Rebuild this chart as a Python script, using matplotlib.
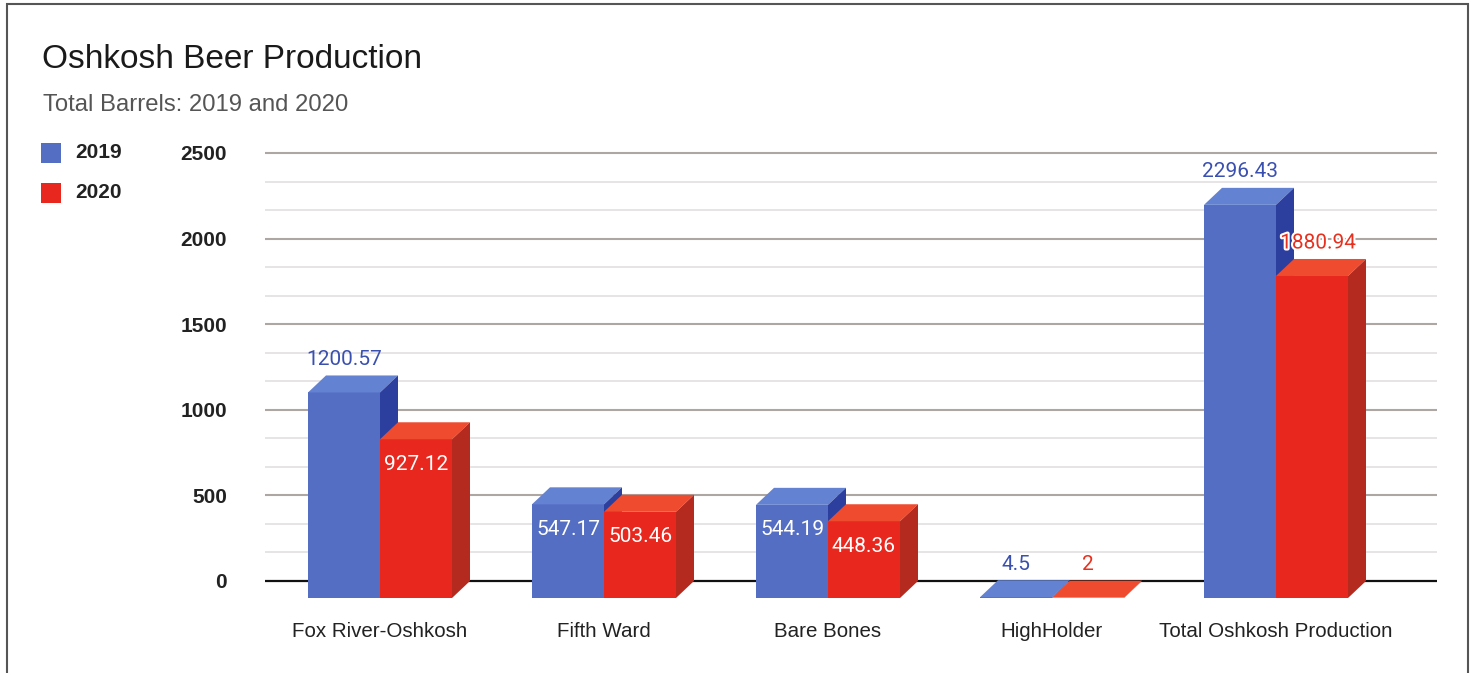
import matplotlib
matplotlib.use("Agg")
import matplotlib.pyplot as plt
from matplotlib.patches import Polygon, Rectangle
import matplotlib.patheffects as pe

# ---------------- data ----------------
categories = ["Fox River-Oshkosh", "Fifth Ward", "Bare Bones", "HighHolder",
              "Total Oshkosh Production"]
series_names = ["2019", "2020"]
values_2019 = [1200.57, 547.17, 544.19, 4.5, 2296.43]
values_2020 = [927.12, 503.46, 448.36, 2, 1880.94]
labels_2019 = ["1200.57", "547.17", "544.19", "4.5", "2296.43"]
labels_2020 = ["927.12", "503.46", "448.36", "2", "1880.94"]
y_ticks = [0, 500, 1000, 1500, 2000, 2500]

# ---------------- style ----------------
W, H = 1482, 673
inside_2019 = [False, True, True, False, False]
inside_2020 = [True, True, True, False, False]
blue = dict(front="#546ec4", top="#6482d2", side="#2c3f9f", text="#3a50b0")
red = dict(front="#e8281e", top="#ef4b2f", side="#b42a1f", text="#e8301e")

fig = plt.figure(figsize=(W / 100, H / 100), dpi=100)
fig.patch.set_facecolor("white")

# plot area in pixels
px_l, px_r, py_t, py_b = 265, 1437, 140, 610
ax = fig.add_axes([px_l / W, 1 - py_b / H, (px_r - px_l) / W, (py_b - py_t) / H])

# mapping: x index -> px = 380 + 224*x ; value -> py = 581 - 0.1712*v
sx = 224.0
sy = 0.1712
ax.set_xlim((px_l - 380) / sx, (px_r - 380) / sx)
ax.set_ylim((581 - py_b) / sy, (581 - py_t) / sy)
for s in ax.spines.values():
    s.set_visible(False)
ax.set_facecolor("none")

x0, x1 = ax.get_xlim()
# gridlines: minor at thirds, major each 500
for v in range(0, 2501, 500):
    for k in (1, 2):
        mv = v + k * 500 / 3
        if mv < 2500:
            ax.hlines(mv, x0, x1, color="#e4e2e2", lw=1.3, zorder=1)
    if v == 0:
        ax.hlines(v, x0, x1, color="#111111", lw=1.6, zorder=1.5)
    else:
        ax.hlines(v, x0, x1, color="#ada6a3", lw=1.5, zorder=1.5)

bw = 72 / sx          # bar width
dx = 18 / sx          # depth in x
dd = 17 / sy          # depth in value units


def bar3d(xl, v, c, z):
    fb = -dd
    ft = v - dd
    ax.add_patch(Polygon([(xl, fb), (xl + bw, fb), (xl + bw, ft), (xl, ft)],
                         closed=True, fc=c["front"], ec="none", zorder=z))
    ax.add_patch(Polygon([(xl, ft), (xl + bw, ft), (xl + bw + dx, v), (xl + dx, v)],
                         closed=True, fc=c["top"], ec="none", zorder=z))
    ax.add_patch(Polygon([(xl + bw, fb), (xl + bw + dx, 0), (xl + bw + dx, v), (xl + bw, ft)],
                         closed=True, fc=c["side"], ec="none", zorder=z))


for i in range(len(categories)):
    bar3d(i - bw, values_2019[i], blue, 3)
    bar3d(i, values_2020[i], red, 4)

lab_font = dict(family="Roboto", fontsize=15)
for i in range(len(categories)):
    for xl, v, lab, inside, c, z in ((i - bw, values_2019[i], labels_2019[i], inside_2019[i], blue, 5),
                                     (i, values_2020[i], labels_2020[i], inside_2020[i], red, 6)):
        cx = xl + bw / 2
        if inside:
            ax.text(cx, v - dd - 25 / sy, lab, color="white", ha="center", va="center",
                    zorder=z + 2, **lab_font)
        else:
            t = ax.text(cx + (6 / sx if i == 4 and c is red else 0), v + 16 / sy, lab,
                        color=c["text"], ha="center", va="center", zorder=z + 2, **lab_font)
            if i == 4 and c is red:
                t.set_path_effects([pe.withStroke(linewidth=3, foreground="white")])

# axis ticks
ax.set_yticks(y_ticks)
ax.set_yticklabels([str(t) for t in y_ticks], family="Liberation Sans",
                   fontweight="bold", fontsize=15, color="#222222")
ax.tick_params(axis="y", length=0, pad=(px_l - 227) * 0.72)
ax.set_xticks(range(len(categories)))
ax.set_xticklabels(categories, family="Liberation Sans", fontsize=14.8, color="#222222")
ax.tick_params(axis="x", length=0, pad=12 * 0.72)

# title / subtitle
fig.text(42 / W, 1 - 60 / H, "Oshkosh Beer Production", family="Liberation Sans",
         fontsize=24, color="#1a1a1a", ha="left", va="center")
fig.text(43 / W, 1 - 105 / H, "Total Barrels: 2019 and 2020", family="Liberation Sans",
         fontsize=17.2, color="#555555", ha="left", va="center")

# legend
for name, c, yc in ((series_names[0], blue, 153), (series_names[1], red, 193)):
    fig.patches.append(Rectangle((41 / W, 1 - (yc + 10) / H), 20 / W, 20 / H,
                                 transform=fig.transFigure, fc=c["front"], ec="none"))
    fig.text(75 / W, 1 - yc / H, name, family="Liberation Sans", fontweight="bold",
             fontsize=15, color="#222222", ha="left", va="center")

# outer frame
fig.patches.append(Rectangle((7 / W, -0.05), (1468 - 7) / W, 1.05 - 4 / H,
                             transform=fig.transFigure, fill=False, ec="#555555", lw=1.5))

fig.savefig("out.png", dpi=100)
